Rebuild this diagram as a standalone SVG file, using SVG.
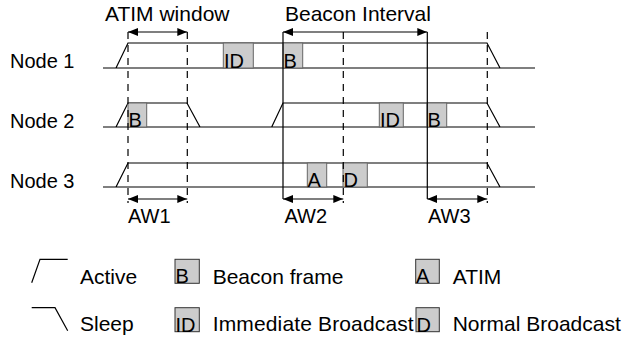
<svg xmlns="http://www.w3.org/2000/svg" width="634" height="338" viewBox="0 0 634 338">
<style>
text{font-family:"Liberation Sans",Arial,sans-serif;fill:#000}
.lbl{font-size:20px}
.ttl{font-size:21px}
.leg{font-size:21px}
.bx{font-size:20px}
.ln{stroke:#000;stroke-width:1.2;fill:none}
.dash{stroke:#000;stroke-width:1.2;fill:none;stroke-dasharray:7,6}
.box{fill:#cccccc;stroke:#666;stroke-width:1}
.arr{stroke:#000;stroke-width:1.2;fill:none;marker-start:url(#ah);marker-end:url(#ah)}
</style>
<defs>
<marker id="ah" viewBox="0 0 10 8" refX="10" refY="4" markerWidth="10" markerHeight="8" markerUnits="userSpaceOnUse" orient="auto-start-reverse">
<path d="M0,0 L10,4 L0,8 Z" fill="#000"/>
</marker>
</defs>
<rect width="634" height="338" fill="#fff"/>
<text class="ttl" x="105" y="21">ATIM window</text>
<text class="ttl" x="285" y="21">Beacon Interval</text>

<g id="node1">
<text class="lbl" x="10" y="68">Node 1</text>
<path class="ln" d="M103,68 H535 M116,68 L128,43 H487 L500,68"/>
<rect class="box" x="223.3" y="43" width="30" height="25"/>
<text class="bx" x="224" y="68">ID</text>
<rect class="box" x="283" y="43" width="19.7" height="25"/>
<text class="bx" x="283.5" y="68">B</text>
</g>

<g id="node2">
<text class="lbl" x="10" y="127.5">Node 2</text>
<path class="ln" d="M103,127 H535 M116,127 L128,103 H187 L200,127 M271.7,127 L283,103 H487 L500,127"/>
<rect class="box" x="128" y="103" width="18.7" height="24"/>
<text class="bx" x="128.5" y="127">B</text>
<rect class="box" x="379.3" y="103" width="24" height="24"/>
<text class="bx" x="380" y="127">ID</text>
<rect class="box" x="427" y="103" width="19.7" height="24"/>
<text class="bx" x="427.5" y="127">B</text>
</g>

<g id="node3">
<text class="lbl" x="10" y="187.5">Node 3</text>
<path class="ln" d="M103,187 H535 M116,187 L128,163 H487 L500,187"/>
<rect class="box" x="307.3" y="163" width="19.4" height="24"/>
<text class="bx" x="307.5" y="187">A</text>
<rect class="box" x="343" y="163" width="24.3" height="24"/>
<text class="bx" x="343.5" y="187">D</text>
</g>

<g id="connectors">
<path class="dash" d="M128,32 V203 M187.3,32 V203 M343.3,32 V203 M487.3,32 V203"/>
<path class="ln" d="M283,32 V199 M427.3,32 V199"/>
<path class="arr" d="M128,32 H187.3"/>
<path class="arr" d="M283,32 H427.3"/>
<path class="arr" d="M128,199 H187.3"/>
<path class="arr" d="M283,199 H343.3"/>
<path class="arr" d="M427.3,199 H487.3"/>
</g>
<text class="lbl" x="128" y="223.3">AW1</text>
<text class="lbl" x="284.5" y="223.3">AW2</text>
<text class="lbl" x="428" y="223.3">AW3</text>

<g id="legend">
<path class="ln" d="M31.7,282.7 L40,259.3 H67.7 M31.7,307.7 H55 L67.7,330.7"/>
<text class="leg" x="80" y="283.5">Active</text>
<text class="leg" x="80" y="331">Sleep</text>
<rect class="box" x="175" y="259.3" width="24.3" height="24" style="stroke:#333"/>
<text class="bx" x="175.5" y="283.3">B</text>
<text class="leg" x="212.7" y="283.5">Beacon frame</text>
<rect class="box" x="175" y="307.7" width="24.3" height="24" style="stroke:#333"/>
<text class="bx" x="175.5" y="331.7">ID</text>
<text class="leg" x="212.7" y="331" textLength="201" lengthAdjust="spacing">Immediate Broadcast</text>
<rect class="box" x="415.7" y="259.3" width="23.6" height="24" style="stroke:#333"/>
<text class="bx" x="416" y="283.3">A</text>
<text class="leg" x="452.7" y="283.5">ATIM</text>
<rect class="box" x="416" y="307.7" width="23.3" height="24" style="stroke:#333"/>
<text class="bx" x="416.5" y="331.7">D</text>
<text class="leg" x="452.7" y="331">Normal Broadcast</text>
</g>
</svg>
